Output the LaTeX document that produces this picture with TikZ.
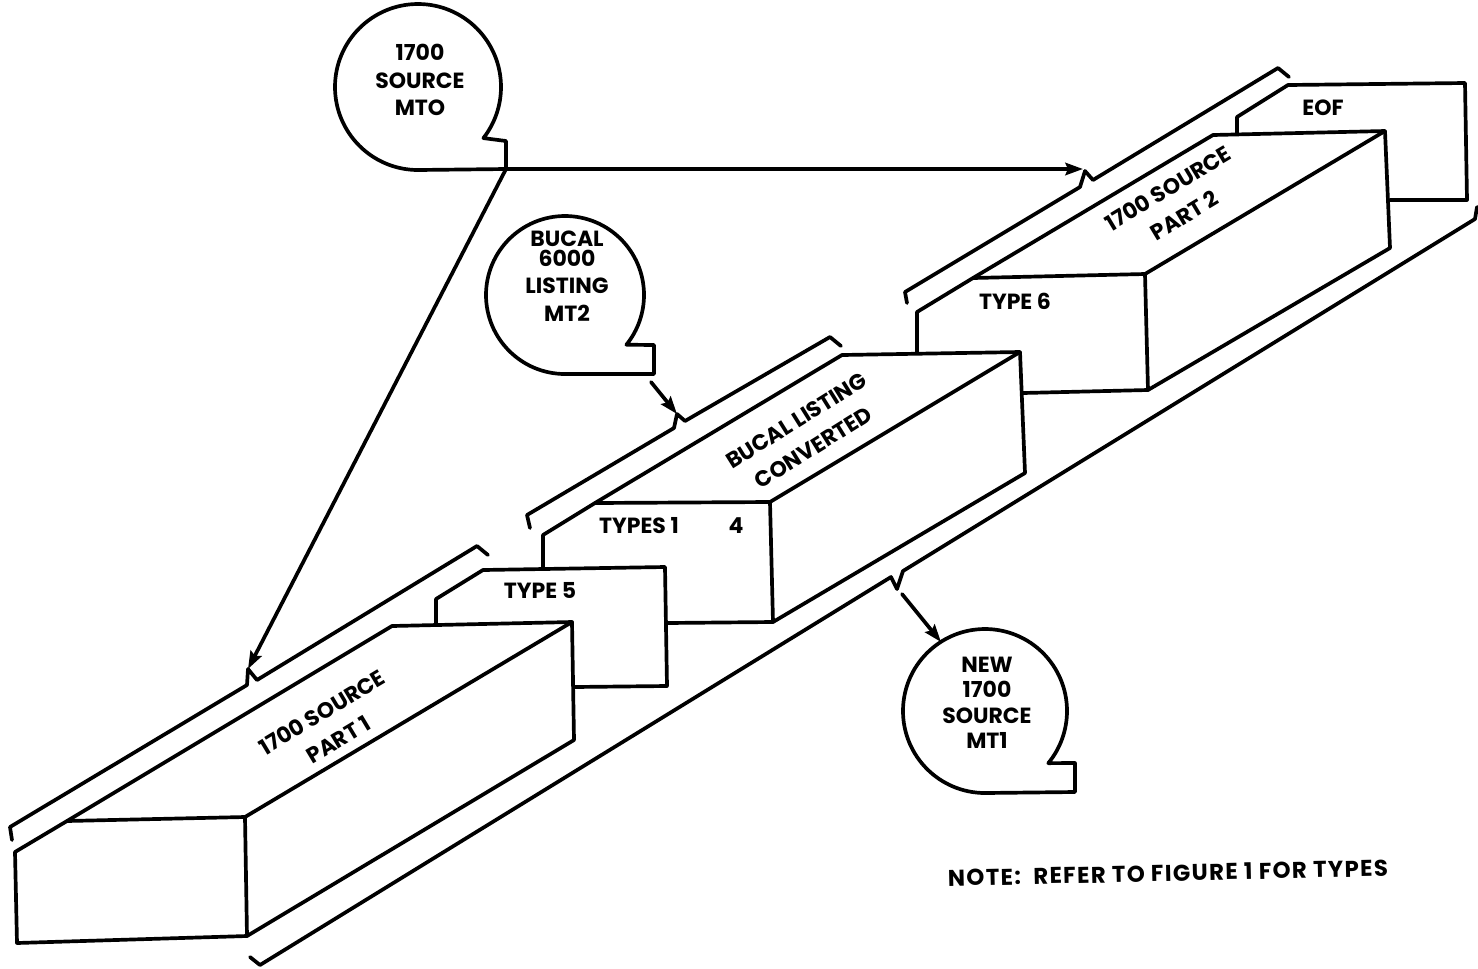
\documentclass[tikz,border=0pt]{standalone}
\usepackage{fontspec}
\setmainfont{Poppins}
\usetikzlibrary{arrows.meta}
\tikzset{
  ln/.style={line width=2.1pt, line cap=round, line join=round},
  arr/.style={ln, -{Stealth[length=10pt,width=7pt,inset=1.5pt]}},
  lbl/.style={font=\bfseries\fontsize{12.5}{15.5}\selectfont, align=center, inner sep=0pt},
  rlbl/.style={font=\bfseries\fontsize{12.5}{18}\selectfont, align=center, inner sep=0pt}
}
\begin{document}
\begin{tikzpicture}[x=0.02cm,y=-0.02cm]
\fill[white] (0,0) rectangle (1478,968);
\useasboundingbox (0,0) rectangle (1478,968);

% ---------- named points ----------
\coordinate (mtoC) at (506,169);
\coordinate (n1) at (248,669);
\coordinate (n2) at (677,414);
\coordinate (n3) at (1085,171);
\coordinate (a3end) at (1083,169);
\coordinate (nb) at (897,589);
\coordinate (mt2out) at (651,382);
\coordinate (nbout) at (902,594);
\coordinate (mt1in) at (941,642);

% ---------- tape bubbles ----------
\draw[ln] (418,170) arc[start angle=90, end angle=398, radius=83] -- (506,141) -- (mtoC) -- cycle;
\draw[ln] (565,374) arc[start angle=90, end angle=399, radius=79] -- (654,345) -- (654,374) -- cycle;
\draw[ln] (985,793) arc[start angle=90, end angle=399.5, radius=82] -- (1075,763) -- (1075,792) -- cycle;

\node[lbl] (mto) at (420,80) {1700\\SOURCE\\MTO};
\node[lbl] (mt2) at (567,276) {BUCAL\\[-4pt]6000\\LISTING\\MT2};
\node[lbl, font=\bfseries\fontsize{12.5}{14.5}\selectfont] (mt1) at (987,703) {NEW\\1700\\SOURCE\\MT1};

% ---------- box 1 : 1700 SOURCE PART 1 ----------
\draw[ln] (15,852) -- (67,821) -- (392,626) -- (572,622) -- (574,740) -- (247,936) -- (17,943) -- cycle;
\draw[ln] (67,821) -- (245,817) -- (247,936);
\draw[ln] (245,817) -- (572,622);
\node[rlbl, rotate=31] (p1) at (330,726) {1700 SOURCE\\PART 1};

% ---------- TYPE 5 card ----------
\draw[ln] (436,623) -- (436,599) -- (483,570) -- (665,567) -- (667,686) -- (574,687);
\node[lbl] (t5) at (540,590) {TYPE 5};

% ---------- box 2 : BUCAL LISTING CONVERTED ----------
\draw[ln] (543,568) -- (543,535) -- (595,503) -- (842,355) -- (1020,352) -- (1025,473) -- (773,622) -- (667,623);
\draw[ln] (595,503) -- (770,502) -- (773,622);
\draw[ln] (770,502) -- (1020,352);
\node[rlbl, rotate=32] (p2) at (805,434) {BUCAL LISTING\\CONVERTED};
\node[lbl] (t14) at (639,526) {TYPES 1};
\node[lbl] (t4) at (736,526) {4};

% ---------- box 3 : 1700 SOURCE PART 2 ----------
\draw[ln] (917,353) -- (917,312) -- (973,278) -- (1213,135) -- (1385,131) -- (1390,248) -- (1148,390) -- (1023,393);
\draw[ln] (973,278) -- (1145,274) -- (1148,390);
\draw[ln] (1145,274) -- (1385,131);
\node[rlbl, rotate=31] (p3) at (1176,202) {1700 SOURCE\\PART 2};
\node[lbl] (t6) at (1015,301) {TYPE 6};

% ---------- EOF card ----------
\draw[ln] (1237,133) -- (1237,117) -- (1288,85) -- (1465,83) -- (1467,200) -- (1390,200);
\node[lbl] (eof) at (1323,108) {EOF};

% ---------- brackets ----------
\draw[ln] (12,840) -- (10,827) -- (247,685) -- (n1) -- (257,680) -- (477,546) -- (488,555);
\draw[ln] (530,528) -- (527,515) -- (674,428) -- (n2) -- (685,421) -- (830,337) -- (841,346);
\draw[ln] (907,303) -- (905,292) -- (1080,187) -- (n3) -- (1093,180) -- (1278,68) -- (1289,77);
\draw[ln] (250,957) -- (260,965) -- (891,577) -- (nb) -- (903,571) -- (1475,219) -- (1477,207);

% ---------- connectors ----------
\draw[arr] (mtoC) -- (a3end);
\draw[arr] (mtoC) -- (n1);
\draw[arr] (mt2out) -- (n2);
\draw[arr] (nbout) -- (mt1in);

% ---------- note ----------
\node[lbl, rotate=1.3, font=\bfseries\fontsize{13}{15.5}\selectfont\addfontfeatures{LetterSpace=6}] (note) at (1168,873) {NOTE:\ \ REFER TO FIGURE 1 FOR TYPES};
\end{tikzpicture}
\end{document}
